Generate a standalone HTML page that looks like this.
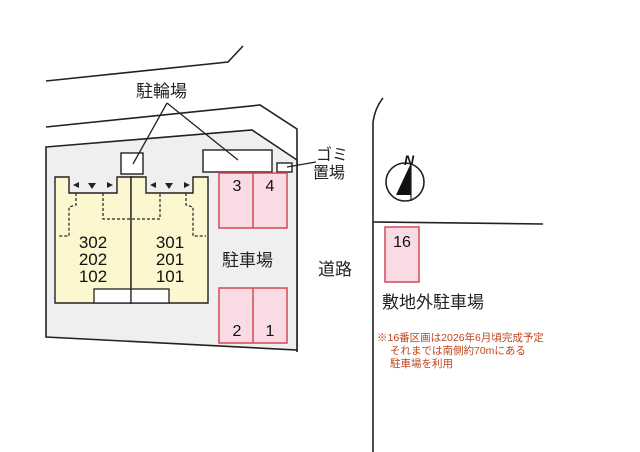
<!DOCTYPE html><html><head><meta charset="utf-8"><style>body{margin:0;background:#fff}svg{display:block}text{font-family:"Liberation Sans","Noto Sans CJK JP",sans-serif}</style></head><body>
<svg width="640" height="452" viewBox="0 0 640 452">
<g fill="none" stroke="#222" stroke-width="1.6">
<polyline points="46,81 228,62 243,46"/>
<polyline points="46,127 260,105 297,129 297,352"/>
<path d="M373,452 L373,122 Q375,108 383,98"/>
<line x1="373" y1="222" x2="543" y2="224"/>
</g>
<polygon points="46,147 252,130 297,160 297,350 46,337" fill="#efefef" stroke="#222" stroke-width="1.6"/>
<g stroke="#222" stroke-width="1.4" fill="#fff">
<rect x="121" y="153" width="22" height="21"/>
<rect x="203" y="150" width="69" height="22"/>
<rect x="277" y="163" width="15" height="9"/>
</g>
<g stroke="#222" stroke-width="1.3">
<line x1="167" y1="103" x2="133" y2="164"/>
<line x1="167" y1="103" x2="238" y2="160"/>
<line x1="287" y1="167" x2="316" y2="162"/>
</g>
<g fill="#fdf7cf" stroke="#222" stroke-width="1.4">
<polygon points="55,177 69,177 69,193 117,193 117,177 131,177 131,303 55,303"/>
<polygon points="131,177 146,177 146,193 193,193 193,177 208,177 208,303 131,303"/>
</g>
<g fill="#fff" stroke="#222" stroke-width="1.3">
<rect x="94" y="289" width="37" height="14"/><rect x="131" y="289" width="38" height="14"/>
</g>
<g fill="none" stroke="#222" stroke-width="1.2" stroke-dasharray="3,2">
<polyline points="76,193 76,205 69,207 69,236 58,236"/>
<polyline points="103,193 103,219 160,219 160,193"/>
<polyline points="186,193 186,205 193,207 193,236 206,236"/>
</g>
<g fill="#222">
<polygon points="73,185 79,182 79,188"/><polygon points="88,183 96,183 92,189"/><polygon points="113,185 107,182 107,188"/>
<polygon points="150,185 156,182 156,188"/><polygon points="165,183 173,183 169,189"/><polygon points="190,185 184,182 184,188"/>
</g>
<g font-size="17" fill="#111" text-anchor="middle">
<text x="93" y="248">302</text><text x="93" y="265">202</text><text x="93" y="282">102</text>
<text x="170" y="248">301</text><text x="170" y="265">201</text><text x="170" y="282">101</text>
</g>
<g fill="#fadbe3" stroke="#d04a5a" stroke-width="1.5">
<rect x="219" y="173" width="68" height="55"/><line x1="253" y1="173" x2="253" y2="228"/>
<rect x="219" y="288" width="68" height="55"/><line x1="253" y1="288" x2="253" y2="343"/>
<rect x="385" y="227" width="34" height="55"/>
</g>
<g font-size="16" fill="#111" text-anchor="middle">
<text x="237" y="191">3</text><text x="270" y="191">4</text>
<text x="237" y="336">2</text><text x="270" y="336">1</text>
<text x="402" y="247">16</text>
</g>
<g font-size="17" fill="#222">
<text x="136" y="97">駐輪場</text>
<text x="222" y="266">駐車場</text>
<text x="318" y="275">道路</text>
<text x="382" y="308">敷地外駐車場</text>
<text x="316" y="160" font-size="16">ゴミ</text>
<text x="313" y="178" font-size="16">置場</text>
</g>
<circle cx="405" cy="182" r="19" fill="#fff" stroke="#222" stroke-width="1.6"/>
<polygon points="411,163 396,195 411,195" fill="#111"/>
<line x1="411" y1="163" x2="411" y2="201" stroke="#222" stroke-width="1.2"/>
<text x="404" y="165" font-size="14" font-weight="bold" font-style="italic" fill="#111">N</text>
<g font-size="10.5" fill="#c0441c">
<text x="377" y="341">※16番区画は2026年6月頃完成予定</text>
<text x="390" y="354">それまでは南側約70mにある</text>
<text x="390" y="367">駐車場を利用</text>
</g>
</svg>
</body></html>
